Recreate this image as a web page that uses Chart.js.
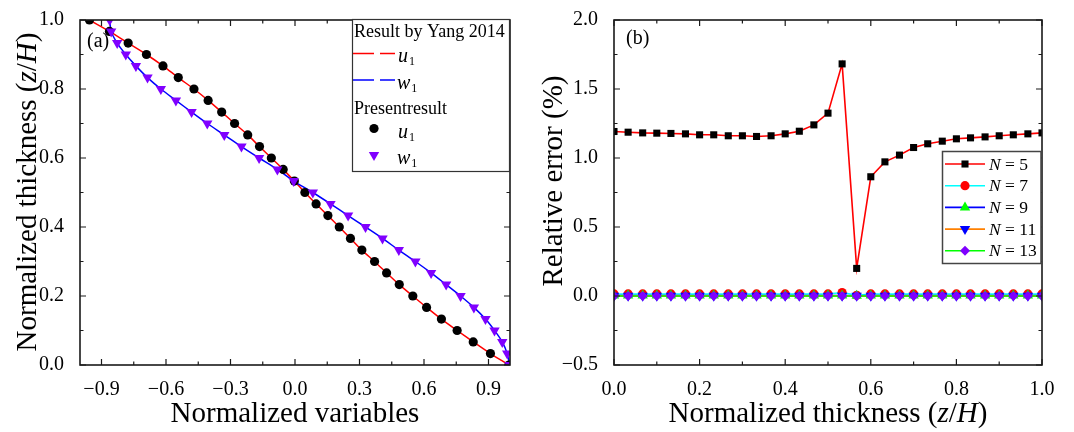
<!DOCTYPE html>
<html>
<head>
<meta charset="utf-8">
<script src="https://cdn.jsdelivr.net/npm/chart.js@4/dist/chart.umd.min.js"></script>
<style>
  html, body { margin: 0; padding: 0; background: #fff; }
  #wrap { position: relative; width: 1074px; height: 432px; overflow: hidden; }
  #chartA { position: absolute; left: 0; top: 0; }
  #chartB { position: absolute; left: 540px; top: 0; }
</style>
</head>
<body>
<div id="wrap">
  <canvas id="chartA" width="540" height="432"></canvas>
  <canvas id="chartB" width="534" height="432"></canvas>
</div>
<script>
// ---- panel (a): normalized thickness vs normalized variables ----
const zA = [1.000, 0.967, 0.933, 0.900, 0.867, 0.833, 0.800, 0.767, 0.733, 0.700, 0.667,
  0.633, 0.600, 0.567, 0.533, 0.500, 0.467, 0.433, 0.400, 0.367, 0.333, 0.300, 0.267,
  0.233, 0.200, 0.167, 0.133, 0.100, 0.067, 0.033, 0.000];
const u1 = [-0.956, -0.863, -0.776, -0.691, -0.614, -0.543, -0.470, -0.404, -0.341, -0.281,
  -0.220, -0.165, -0.110, -0.055, -0.003, 0.046, 0.098, 0.153, 0.206, 0.258, 0.311, 0.370,
  0.426, 0.485, 0.548, 0.612, 0.681, 0.754, 0.829, 0.909, 0.995];
const w1 = [-0.862, -0.855, -0.827, -0.787, -0.740, -0.686, -0.624, -0.554, -0.481, -0.408,
  -0.329, -0.249, -0.167, -0.082, -0.006, 0.083, 0.165, 0.247, 0.328, 0.407, 0.483, 0.560,
  0.633, 0.703, 0.770, 0.832, 0.886, 0.928, 0.964, 0.987, 0.998];
const xTicksA = [-0.9, -0.6, -0.3, 0, 0.3, 0.6, 0.9];
const xMinorA = [-0.75, -0.45, -0.15, 0.15, 0.45, 0.75];
const yTicksA = [0, 0.2, 0.4, 0.6, 0.8, 1.0];
const yMinorA = [0.1, 0.3, 0.5, 0.7, 0.9];

// ---- panel (b): relative error vs normalized thickness ----
const zB = [0, 0.033, 0.067, 0.1, 0.133, 0.167, 0.2, 0.233, 0.267, 0.3, 0.333, 0.367, 0.4,
  0.433, 0.467, 0.5, 0.533, 0.567, 0.6, 0.633, 0.667, 0.7, 0.733, 0.767, 0.8, 0.833, 0.867,
  0.9, 0.933, 0.967, 1.0];
const errN5 = [1.192, 1.187, 1.182, 1.180, 1.178, 1.175, 1.168, 1.168, 1.161, 1.161, 1.156,
  1.161, 1.175, 1.194, 1.240, 1.325, 1.682, 0.200, 0.864, 0.972, 1.021, 1.076, 1.103, 1.122,
  1.139, 1.146, 1.153, 1.161, 1.168, 1.175, 1.182];
const errN7 = [0.015, 0.015, 0.015, 0.015, 0.015, 0.015, 0.015, 0.015, 0.015, 0.015, 0.015,
  0.015, 0.015, 0.015, 0.015, 0.015, 0.025, 0.005, 0.015, 0.015, 0.015, 0.015, 0.015, 0.015,
  0.015, 0.015, 0.015, 0.015, 0.015, 0.015, 0.015];
const errN9 = [0.003, 0.003, 0.003, 0.003, 0.003, 0.003, 0.003, 0.003, 0.003, 0.003, 0.003,
  0.003, 0.003, 0.003, 0.003, 0.003, 0.004, 0.002, 0.003, 0.003, 0.003, 0.003, 0.003, 0.003,
  0.003, 0.003, 0.003, 0.003, 0.003, 0.003, 0.003];
const errN11 = [0.001, 0.001, 0.001, 0.001, 0.001, 0.001, 0.001, 0.001, 0.001, 0.001, 0.001,
  0.001, 0.001, 0.001, 0.001, 0.001, 0.002, 0.001, 0.001, 0.001, 0.001, 0.001, 0.001, 0.001,
  0.001, 0.001, 0.001, 0.001, 0.001, 0.001, 0.001];
const errN13 = [0.000, 0.000, 0.000, 0.000, 0.000, 0.000, 0.000, 0.000, 0.000, 0.000, 0.000,
  0.000, 0.000, 0.000, 0.000, 0.000, 0.000, 0.000, 0.000, 0.000, 0.000, 0.000, 0.000, 0.000,
  0.000, 0.000, 0.000, 0.000, 0.000, 0.000, 0.000];
const legendB = ["5", "7", "9", "11", "13"];
const xTicksB = [0, 0.2, 0.4, 0.6, 0.8, 1.0];
const xMinorB = [0.1, 0.3, 0.5, 0.7, 0.9];
const yTicksB = [-0.5, 0, 0.5, 1.0, 1.5, 2.0];
const yMinorB = [-0.25, 0.25, 0.75, 1.25, 1.75];

const SERIF = '"Liberation Serif", "Times New Roman", serif';
const PURPLE = "#8000ff";
Chart.defaults.font.family = SERIF;
Chart.defaults.color = "#000";
Chart.defaults.animation = false;

const fmt = (v) => (v < 0 ? "\u2212" : "") + Math.abs(v).toFixed(1);
const pts = (xs, ys) => xs.map((x, i) => ({ x, y: ys[i] }));

function drawMarker(ctx, style, x, y, r, color) {
  ctx.save();
  ctx.fillStyle = color;
  ctx.beginPath();
  if (style === "circle") {
    ctx.arc(x, y, r, 0, Math.PI * 2);
  } else if (style === "rect") {
    const s = r * Math.SQRT1_2;
    ctx.rect(x - s, y - s, 2 * s, 2 * s);
  } else if (style === "diamond") {
    ctx.moveTo(x, y - r); ctx.lineTo(x + r, y); ctx.lineTo(x, y + r); ctx.lineTo(x - r, y);
  } else {
    const dir = style === "down" ? 1 : -1;
    const h = r * 0.5;
    const w = r * Math.sqrt(3) / 2;
    ctx.moveTo(x, y + dir * r); ctx.lineTo(x + w, y - dir * h); ctx.lineTo(x - w, y - dir * h);
  }
  ctx.closePath();
  ctx.fill();
  ctx.restore();
}

// text made of [string, italic] parts, centred at (x, y) on the baseline
function drawRich(ctx, parts, x, y, size, rotate) {
  ctx.save();
  ctx.translate(x, y);
  if (rotate) ctx.rotate(-Math.PI / 2);
  ctx.fillStyle = "#000";
  ctx.textBaseline = "alphabetic";
  ctx.textAlign = "left";
  const fonts = parts.map((p) => (p[1] ? "italic " : "") + size + "px " + SERIF);
  let total = 0;
  parts.forEach((p, i) => { ctx.font = fonts[i]; total += ctx.measureText(p[0]).width; });
  let cx = -total / 2;
  parts.forEach((p, i) => {
    ctx.font = fonts[i];
    ctx.fillText(p[0], cx, 0);
    cx += ctx.measureText(p[0]).width;
  });
  ctx.restore();
}

function subLabel(ctx, letter, x, y) {
  ctx.save();
  ctx.fillStyle = "#000";
  ctx.textAlign = "left";
  ctx.textBaseline = "alphabetic";
  ctx.font = "italic 20px " + SERIF;
  ctx.fillText(letter, x, y);
  const w = ctx.measureText(letter).width;
  ctx.font = "12px " + SERIF;
  ctx.fillText("1", x + w + 1, y + 3);
  ctx.restore();
}

// frame and inward tick marks on all four sides
function drawFrame(chart, xMajor, xMinor, yMajor, yMinor) {
  const { ctx, chartArea: a, scales } = chart;
  ctx.save();
  ctx.strokeStyle = "#1a1a1a";
  ctx.lineWidth = 1.2;
  ctx.beginPath();
  const tick = (list, len) => {
    list.forEach((v) => {
      const px = scales.x.getPixelForValue(v);
      ctx.moveTo(px, a.bottom); ctx.lineTo(px, a.bottom - len);
      ctx.moveTo(px, a.top); ctx.lineTo(px, a.top + len);
    });
  };
  const tickY = (list, len) => {
    list.forEach((v) => {
      const py = scales.y.getPixelForValue(v);
      ctx.moveTo(a.left, py); ctx.lineTo(a.left + len, py);
      ctx.moveTo(a.right, py); ctx.lineTo(a.right - len, py);
    });
  };
  tick(xMajor, 6); tick(xMinor, 3.5);
  tickY(yMajor, 6); tickY(yMinor, 3.5);
  ctx.stroke();
  ctx.lineWidth = 1.6;
  ctx.strokeRect(a.left, a.top, a.right - a.left, a.bottom - a.top);
  ctx.restore();
}

function axisScales(xMin, xMax, xTicks, yMin, yMax, yTicks, yWidth) {
  return {
    x: {
      type: "linear", min: xMin, max: xMax,
      afterBuildTicks: (s) => { s.ticks = xTicks.map((v) => ({ value: v })); },
      afterFit: (s) => { s.height = 67; },
      grid: { display: false },
      border: { display: false },
      ticks: { font: { size: 20 }, color: "#000", padding: 5, maxRotation: 0, callback: fmt },
    },
    y: {
      type: "linear", min: yMin, max: yMax,
      afterBuildTicks: (s) => { s.ticks = yTicks.map((v) => ({ value: v })); },
      afterFit: (s) => { s.width = yWidth; },
      grid: { display: false },
      border: { display: false },
      ticks: { font: { size: 20 }, color: "#000", padding: 8, callback: fmt },
    },
  };
}

const decorA = {
  id: "decorA",
  afterDraw(chart) {
    const ctx = chart.ctx;
    drawFrame(chart, xTicksA, xMinorA, yTicksA, yMinorA);
    drawRich(ctx, [["Normalized variables", false]], 295, 422, 29, false);
    drawRich(ctx, [["Normalized thickness (", false], ["z", true], ["/", false], ["H", true], [")", false]],
      36, 192, 29, true);
    ctx.save();
    ctx.font = "20px " + SERIF;
    ctx.fillStyle = "#000";
    ctx.fillText("(a)", 87, 47);
    // legend box
    ctx.fillStyle = "#fff";
    ctx.fillRect(352.5, 19.5, 157, 152);
    ctx.strokeStyle = "#333";
    ctx.lineWidth = 1.2;
    ctx.strokeRect(352.5, 19.5, 157, 152);
    ctx.fillStyle = "#000";
    ctx.font = "18px " + SERIF;
    ctx.fillText("Result by Yang 2014", 354, 37);
    ctx.fillText("Presentresult", 354, 114);
    ctx.lineWidth = 1.5;
    ctx.setLineDash([21, 6]);
    ctx.strokeStyle = "#ff0000";
    ctx.beginPath(); ctx.moveTo(353, 53.5); ctx.lineTo(395, 53.5); ctx.stroke();
    ctx.strokeStyle = "#0000ff";
    ctx.beginPath(); ctx.moveTo(353, 80); ctx.lineTo(395, 80); ctx.stroke();
    ctx.setLineDash([]);
    ctx.restore();
    subLabel(ctx, "u", 398, 62);
    subLabel(ctx, "w", 397, 89);
    drawMarker(ctx, "circle", 374, 128.5, 4.6, "#000");
    subLabel(ctx, "u", 398, 138);
    drawMarker(ctx, "down", 374, 155, 6, PURPLE);
    subLabel(ctx, "w", 397, 164);
  },
};

new Chart(document.getElementById("chartA"), {
  type: "scatter",
  data: {
    datasets: [
      { label: "u1 Yang", data: pts(u1, zA), showLine: true, pointRadius: 0, borderColor: "#ff0000",
        borderWidth: 1.5, tension: 0.3, order: 3 },
      { label: "w1 Yang", data: pts(w1, zA), showLine: true, pointRadius: 0, borderColor: "#0000ff",
        borderWidth: 1.5, tension: 0.3, order: 2 },
      { label: "u1", data: pts(u1, zA), pointStyle: "circle", pointRadius: 4.6, backgroundColor: "#000",
        borderWidth: 0, order: 1 },
      { label: "w1", data: pts(w1, zA), pointStyle: "triangle", rotation: 180, pointRadius: 6,
        backgroundColor: PURPLE, borderWidth: 0, order: 0 },
    ],
  },
  options: {
    responsive: false,
    layout: { padding: { top: 20, right: 30, left: 0, bottom: 0 } },
    plugins: { legend: { display: false }, tooltip: { enabled: false } },
    scales: axisScales(-1, 1, xTicksA, 0, 1, yTicksA, 80),
  },
  plugins: [decorA],
});

const seriesB = [
  { vals: errN5, line: "#ff0000", mark: "#000000", style: "rect", chartStyle: "rect", r: 5, rot: 0 },
  { vals: errN7, line: "#00ffff", mark: "#ff0000", style: "circle", chartStyle: "circle", r: 4.6, rot: 0 },
  { vals: errN9, line: "#0000ff", mark: "#00ff00", style: "up", chartStyle: "triangle", r: 6, rot: 0 },
  { vals: errN11, line: "#ff8000", mark: "#0000ff", style: "down", chartStyle: "triangle", r: 6, rot: 180 },
  { vals: errN13, line: "#00ff00", mark: PURPLE, style: "diamond", chartStyle: "rectRot", r: 5, rot: 0 },
];

const decorB = {
  id: "decorB",
  afterDraw(chart) {
    const ctx = chart.ctx;
    drawFrame(chart, xTicksB, xMinorB, yTicksB, yMinorB);
    drawRich(ctx, [["Normalized thickness (", false], ["z", true], ["/", false], ["H", true], [")", false]],
      288, 422, 29, false);
    drawRich(ctx, [["Relative error (%)", false]], 22, 181, 29, true);
    ctx.save();
    ctx.font = "20px " + SERIF;
    ctx.fillStyle = "#000";
    ctx.fillText("(b)", 86, 44);
    // legend box
    ctx.fillStyle = "#fff";
    ctx.fillRect(402.5, 151.5, 98.5, 112);
    ctx.strokeStyle = "#444";
    ctx.lineWidth = 1.5;
    ctx.strokeRect(402.5, 151.5, 98.5, 112);
    seriesB.forEach((s, i) => {
      const y = 164 + i * 21.7;
      ctx.strokeStyle = s.line;
      ctx.lineWidth = 1.6;
      ctx.beginPath(); ctx.moveTo(405, y); ctx.lineTo(445, y); ctx.stroke();
      drawMarker(ctx, s.style, 425, y, s.r, s.mark);
      ctx.fillStyle = "#000";
      ctx.font = "italic 17.5px " + SERIF;
      ctx.fillText("N", 449, y + 5.5);
      const w = ctx.measureText("N").width;
      ctx.font = "17.5px " + SERIF;
      ctx.fillText(" = " + legendB[i], 449 + w, y + 5.5);
    });
    ctx.restore();
  },
};

new Chart(document.getElementById("chartB"), {
  type: "scatter",
  data: {
    datasets: seriesB.map((s, i) => ({
      label: "N = " + legendB[i],
      data: pts(zB, s.vals),
      showLine: true,
      borderColor: s.line,
      borderWidth: 1.6,
      pointStyle: s.chartStyle,
      rotation: s.rot,
      pointRadius: s.r,
      backgroundColor: s.mark,
      pointBorderWidth: 0,
      order: 4 - i,
    })),
  },
  options: {
    responsive: false,
    layout: { padding: { top: 20, right: 32, left: 0, bottom: 0 } },
    plugins: { legend: { display: false }, tooltip: { enabled: false } },
    scales: axisScales(0, 1, xTicksB, -0.5, 2, yTicksB, 74),
  },
  plugins: [decorB],
});
</script>
</body>
</html>
